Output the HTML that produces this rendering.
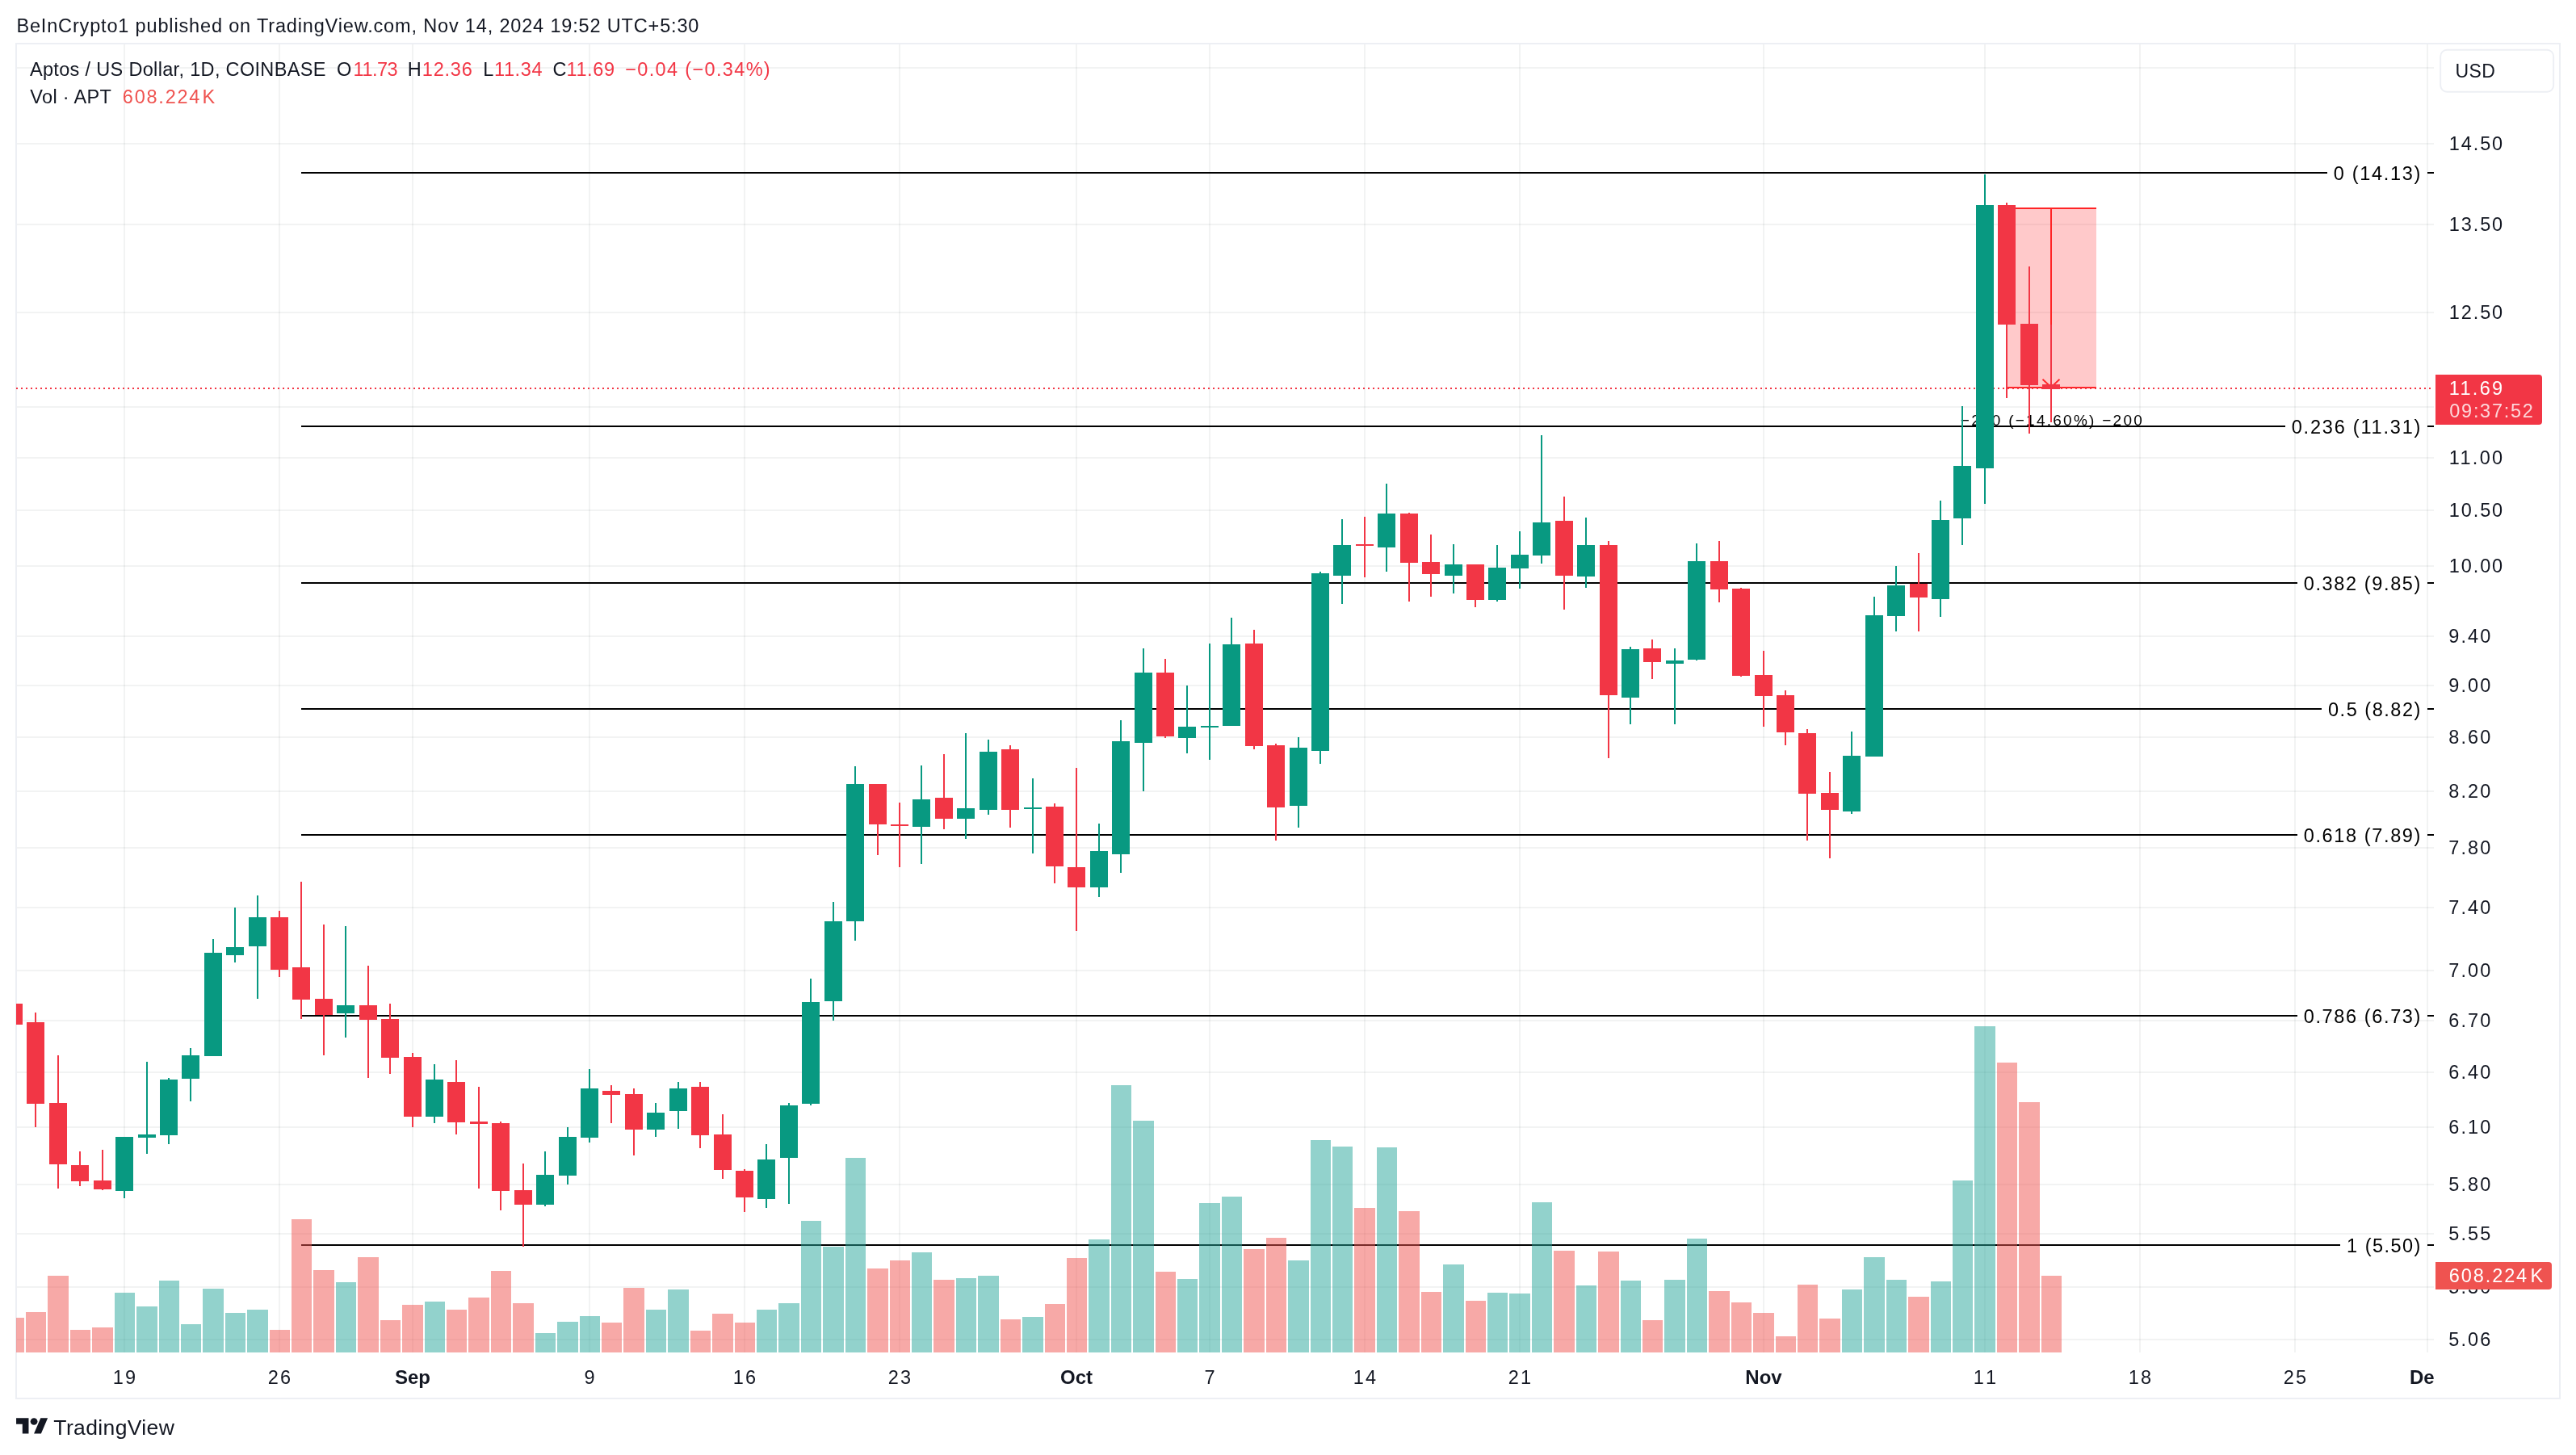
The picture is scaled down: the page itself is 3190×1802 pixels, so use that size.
<!DOCTYPE html>
<html><head><meta charset="utf-8"><title>APTUSD chart</title>
<style>html,body{margin:0;padding:0;background:#fff;}body{width:3190px;height:1802px;overflow:hidden;}svg{display:block;font-family:'Liberation Sans', sans-serif;}text{white-space:pre;}</style></head><body>
<div style="width:3190px;height:1802px;will-change:transform;">
<svg width="3190" height="1802" viewBox="0 0 3190 1802">
<defs><clipPath id="pane"><rect x="20" y="55" width="2994" height="1620"/></clipPath><clipPath id="taxis"><rect x="21" y="1675" width="2993" height="56"/></clipPath></defs>
<rect width="3190" height="1802" fill="#fff"/>
<g fill="rgba(42,46,57,0.06)" shape-rendering="crispEdges">
<rect x="21" y="83" width="2993" height="2"/>
<rect x="21" y="177" width="2993" height="2"/>
<rect x="21" y="277" width="2993" height="2"/>
<rect x="21" y="386" width="2993" height="2"/>
<rect x="21" y="503" width="2993" height="2"/>
<rect x="21" y="566" width="2993" height="2"/>
<rect x="21" y="631" width="2993" height="2"/>
<rect x="21" y="700" width="2993" height="2"/>
<rect x="21" y="787" width="2993" height="2"/>
<rect x="21" y="848" width="2993" height="2"/>
<rect x="21" y="912" width="2993" height="2"/>
<rect x="21" y="979" width="2993" height="2"/>
<rect x="21" y="1049" width="2993" height="2"/>
<rect x="21" y="1123" width="2993" height="2"/>
<rect x="21" y="1201" width="2993" height="2"/>
<rect x="21" y="1263" width="2993" height="2"/>
<rect x="21" y="1327" width="2993" height="2"/>
<rect x="21" y="1395" width="2993" height="2"/>
<rect x="21" y="1466" width="2993" height="2"/>
<rect x="21" y="1527" width="2993" height="2"/>
<rect x="21" y="1593" width="2993" height="2"/>
<rect x="21" y="1658" width="2993" height="2"/>
<rect x="153" y="55" width="2" height="1620"/>
<rect x="345" y="55" width="2" height="1620"/>
<rect x="510" y="55" width="2" height="1620"/>
<rect x="729" y="55" width="2" height="1620"/>
<rect x="921" y="55" width="2" height="1620"/>
<rect x="1113" y="55" width="2" height="1620"/>
<rect x="1332" y="55" width="2" height="1620"/>
<rect x="1497" y="55" width="2" height="1620"/>
<rect x="1689" y="55" width="2" height="1620"/>
<rect x="1881" y="55" width="2" height="1620"/>
<rect x="2183" y="55" width="2" height="1620"/>
<rect x="2457" y="55" width="2" height="1620"/>
<rect x="2649" y="55" width="2" height="1620"/>
<rect x="2841" y="55" width="2" height="1620"/>
<rect x="3005" y="55" width="2" height="1620"/>
</g>
<rect x="20" y="54" width="3150" height="1678" fill="none" stroke="#edeff4" stroke-width="2" shape-rendering="crispEdges"/>
<g clip-path="url(#pane)">
<g fill="#000" shape-rendering="crispEdges">
<rect x="373" y="213" width="2509.0" height="2"/>
<rect x="373" y="527" width="2456.9" height="2"/>
<rect x="373" y="721" width="2471.9" height="2"/>
<rect x="373" y="877" width="2502.2" height="2"/>
<rect x="373" y="1033" width="2471.9" height="2"/>
<rect x="373" y="1257" width="2471.9" height="2"/>
<rect x="373" y="1541" width="2525.3" height="2"/>
</g>
<text x="2889.80" y="222.60" font-size="23.5" fill="#000" textLength="107.60" lengthAdjust="spacing">0 (14.13)</text>
<text x="2837.70" y="536.60" font-size="23.5" fill="#000" textLength="159.70" lengthAdjust="spacing">0.236 (11.31)</text>
<text x="2852.70" y="730.60" font-size="23.5" fill="#000" textLength="144.70" lengthAdjust="spacing">0.382 (9.85)</text>
<text x="2883.00" y="886.60" font-size="23.5" fill="#000" textLength="114.40" lengthAdjust="spacing">0.5 (8.82)</text>
<text x="2852.70" y="1042.60" font-size="23.5" fill="#000" textLength="144.70" lengthAdjust="spacing">0.618 (7.89)</text>
<text x="2852.70" y="1266.60" font-size="23.5" fill="#000" textLength="144.70" lengthAdjust="spacing">0.786 (6.73)</text>
<text x="2906.10" y="1550.60" font-size="23.5" fill="#000" textLength="91.30" lengthAdjust="spacing">1 (5.50)</text>
<rect x="2485" y="258" width="111" height="222" fill="rgba(255,75,78,0.3)" shape-rendering="crispEdges"/>
<g fill="#FF2426" shape-rendering="crispEdges">
<rect x="2485" y="257" width="111" height="2"/>
<rect x="2485" y="479" width="111" height="2"/>
<rect x="2539" y="258" width="2" height="222"/>
</g>
<path d="M2529.5 469.8 L2540 479.5 L2550.5 469.8" fill="none" stroke="#FF2A2C" stroke-width="2"/>
<text x="2540.30" y="526.90" font-size="19" fill="#000" text-anchor="middle" textLength="225.00" lengthAdjust="spacing">−200 (−14.60%) −200</text>
</g>
<g clip-path="url(#pane)" shape-rendering="crispEdges">
<rect x="5" y="1632" width="25" height="43" fill="rgba(239,83,80,0.5)"/>
<rect x="32" y="1625" width="25" height="50" fill="rgba(239,83,80,0.5)"/>
<rect x="59" y="1580" width="26" height="95" fill="rgba(239,83,80,0.5)"/>
<rect x="87" y="1647" width="25" height="28" fill="rgba(239,83,80,0.5)"/>
<rect x="114" y="1644" width="26" height="31" fill="rgba(239,83,80,0.5)"/>
<rect x="142" y="1601" width="25" height="74" fill="rgba(38,166,154,0.5)"/>
<rect x="169" y="1618" width="26" height="57" fill="rgba(38,166,154,0.5)"/>
<rect x="197" y="1586" width="25" height="89" fill="rgba(38,166,154,0.5)"/>
<rect x="224" y="1640" width="25" height="35" fill="rgba(38,166,154,0.5)"/>
<rect x="251" y="1596" width="26" height="79" fill="rgba(38,166,154,0.5)"/>
<rect x="279" y="1626" width="25" height="49" fill="rgba(38,166,154,0.5)"/>
<rect x="306" y="1622" width="26" height="53" fill="rgba(38,166,154,0.5)"/>
<rect x="334" y="1647" width="25" height="28" fill="rgba(239,83,80,0.5)"/>
<rect x="361" y="1510" width="25" height="165" fill="rgba(239,83,80,0.5)"/>
<rect x="388" y="1573" width="26" height="102" fill="rgba(239,83,80,0.5)"/>
<rect x="416" y="1588" width="25" height="87" fill="rgba(38,166,154,0.5)"/>
<rect x="443" y="1557" width="26" height="118" fill="rgba(239,83,80,0.5)"/>
<rect x="471" y="1635" width="25" height="40" fill="rgba(239,83,80,0.5)"/>
<rect x="498" y="1616" width="26" height="59" fill="rgba(239,83,80,0.5)"/>
<rect x="526" y="1612" width="25" height="63" fill="rgba(38,166,154,0.5)"/>
<rect x="553" y="1622" width="25" height="53" fill="rgba(239,83,80,0.5)"/>
<rect x="580" y="1607" width="26" height="68" fill="rgba(239,83,80,0.5)"/>
<rect x="608" y="1574" width="25" height="101" fill="rgba(239,83,80,0.5)"/>
<rect x="635" y="1614" width="26" height="61" fill="rgba(239,83,80,0.5)"/>
<rect x="663" y="1651" width="25" height="24" fill="rgba(38,166,154,0.5)"/>
<rect x="690" y="1637" width="26" height="38" fill="rgba(38,166,154,0.5)"/>
<rect x="718" y="1630" width="25" height="45" fill="rgba(38,166,154,0.5)"/>
<rect x="745" y="1638" width="25" height="37" fill="rgba(239,83,80,0.5)"/>
<rect x="772" y="1595" width="26" height="80" fill="rgba(239,83,80,0.5)"/>
<rect x="800" y="1622" width="25" height="53" fill="rgba(38,166,154,0.5)"/>
<rect x="827" y="1597" width="26" height="78" fill="rgba(38,166,154,0.5)"/>
<rect x="855" y="1648" width="25" height="27" fill="rgba(239,83,80,0.5)"/>
<rect x="882" y="1627" width="26" height="48" fill="rgba(239,83,80,0.5)"/>
<rect x="910" y="1638" width="25" height="37" fill="rgba(239,83,80,0.5)"/>
<rect x="937" y="1622" width="25" height="53" fill="rgba(38,166,154,0.5)"/>
<rect x="964" y="1614" width="26" height="61" fill="rgba(38,166,154,0.5)"/>
<rect x="992" y="1512" width="25" height="163" fill="rgba(38,166,154,0.5)"/>
<rect x="1019" y="1544" width="26" height="131" fill="rgba(38,166,154,0.5)"/>
<rect x="1047" y="1434" width="25" height="241" fill="rgba(38,166,154,0.5)"/>
<rect x="1074" y="1571" width="26" height="104" fill="rgba(239,83,80,0.5)"/>
<rect x="1102" y="1561" width="25" height="114" fill="rgba(239,83,80,0.5)"/>
<rect x="1129" y="1551" width="25" height="124" fill="rgba(38,166,154,0.5)"/>
<rect x="1156" y="1585" width="26" height="90" fill="rgba(239,83,80,0.5)"/>
<rect x="1184" y="1583" width="25" height="92" fill="rgba(38,166,154,0.5)"/>
<rect x="1211" y="1580" width="26" height="95" fill="rgba(38,166,154,0.5)"/>
<rect x="1239" y="1634" width="25" height="41" fill="rgba(239,83,80,0.5)"/>
<rect x="1266" y="1631" width="26" height="44" fill="rgba(38,166,154,0.5)"/>
<rect x="1294" y="1615" width="25" height="60" fill="rgba(239,83,80,0.5)"/>
<rect x="1321" y="1558" width="25" height="117" fill="rgba(239,83,80,0.5)"/>
<rect x="1348" y="1535" width="26" height="140" fill="rgba(38,166,154,0.5)"/>
<rect x="1376" y="1344" width="25" height="331" fill="rgba(38,166,154,0.5)"/>
<rect x="1403" y="1388" width="26" height="287" fill="rgba(38,166,154,0.5)"/>
<rect x="1431" y="1575" width="25" height="100" fill="rgba(239,83,80,0.5)"/>
<rect x="1458" y="1584" width="25" height="91" fill="rgba(38,166,154,0.5)"/>
<rect x="1485" y="1490" width="26" height="185" fill="rgba(38,166,154,0.5)"/>
<rect x="1513" y="1482" width="25" height="193" fill="rgba(38,166,154,0.5)"/>
<rect x="1540" y="1547" width="26" height="128" fill="rgba(239,83,80,0.5)"/>
<rect x="1568" y="1533" width="25" height="142" fill="rgba(239,83,80,0.5)"/>
<rect x="1595" y="1561" width="26" height="114" fill="rgba(38,166,154,0.5)"/>
<rect x="1623" y="1412" width="25" height="263" fill="rgba(38,166,154,0.5)"/>
<rect x="1650" y="1420" width="25" height="255" fill="rgba(38,166,154,0.5)"/>
<rect x="1677" y="1496" width="26" height="179" fill="rgba(239,83,80,0.5)"/>
<rect x="1705" y="1421" width="25" height="254" fill="rgba(38,166,154,0.5)"/>
<rect x="1732" y="1500" width="26" height="175" fill="rgba(239,83,80,0.5)"/>
<rect x="1760" y="1600" width="25" height="75" fill="rgba(239,83,80,0.5)"/>
<rect x="1787" y="1566" width="26" height="109" fill="rgba(38,166,154,0.5)"/>
<rect x="1815" y="1611" width="25" height="64" fill="rgba(239,83,80,0.5)"/>
<rect x="1842" y="1601" width="25" height="74" fill="rgba(38,166,154,0.5)"/>
<rect x="1869" y="1602" width="26" height="73" fill="rgba(38,166,154,0.5)"/>
<rect x="1897" y="1489" width="25" height="186" fill="rgba(38,166,154,0.5)"/>
<rect x="1924" y="1549" width="26" height="126" fill="rgba(239,83,80,0.5)"/>
<rect x="1952" y="1592" width="25" height="83" fill="rgba(38,166,154,0.5)"/>
<rect x="1979" y="1550" width="26" height="125" fill="rgba(239,83,80,0.5)"/>
<rect x="2007" y="1586" width="25" height="89" fill="rgba(38,166,154,0.5)"/>
<rect x="2034" y="1635" width="25" height="40" fill="rgba(239,83,80,0.5)"/>
<rect x="2061" y="1585" width="26" height="90" fill="rgba(38,166,154,0.5)"/>
<rect x="2089" y="1534" width="25" height="141" fill="rgba(38,166,154,0.5)"/>
<rect x="2116" y="1599" width="26" height="76" fill="rgba(239,83,80,0.5)"/>
<rect x="2144" y="1613" width="25" height="62" fill="rgba(239,83,80,0.5)"/>
<rect x="2171" y="1626" width="26" height="49" fill="rgba(239,83,80,0.5)"/>
<rect x="2199" y="1655" width="25" height="20" fill="rgba(239,83,80,0.5)"/>
<rect x="2226" y="1591" width="25" height="84" fill="rgba(239,83,80,0.5)"/>
<rect x="2253" y="1633" width="26" height="42" fill="rgba(239,83,80,0.5)"/>
<rect x="2281" y="1597" width="25" height="78" fill="rgba(38,166,154,0.5)"/>
<rect x="2308" y="1557" width="26" height="118" fill="rgba(38,166,154,0.5)"/>
<rect x="2336" y="1585" width="25" height="90" fill="rgba(38,166,154,0.5)"/>
<rect x="2363" y="1606" width="26" height="69" fill="rgba(239,83,80,0.5)"/>
<rect x="2391" y="1587" width="25" height="88" fill="rgba(38,166,154,0.5)"/>
<rect x="2418" y="1462" width="25" height="213" fill="rgba(38,166,154,0.5)"/>
<rect x="2445" y="1271" width="26" height="404" fill="rgba(38,166,154,0.5)"/>
<rect x="2473" y="1316" width="25" height="359" fill="rgba(239,83,80,0.5)"/>
<rect x="2500" y="1365" width="26" height="310" fill="rgba(239,83,80,0.5)"/>
<rect x="2528" y="1580" width="25" height="95" fill="rgba(239,83,80,0.5)"/>
</g>
<line x1="20" y1="481" x2="3014" y2="481" stroke="#F23645" stroke-width="2" stroke-dasharray="2 4" shape-rendering="crispEdges" clip-path="url(#pl)"/>
<g clip-path="url(#pane)" shape-rendering="crispEdges">
<rect x="16" y="1243" width="2" height="26" fill="#F23645"/>
<rect x="6" y="1243" width="22" height="26" fill="#F23645"/>
<rect x="43" y="1254" width="2" height="142" fill="#F23645"/>
<rect x="33" y="1266" width="22" height="101" fill="#F23645"/>
<rect x="71" y="1307" width="2" height="165" fill="#F23645"/>
<rect x="61" y="1366" width="22" height="76" fill="#F23645"/>
<rect x="98" y="1426" width="2" height="43" fill="#F23645"/>
<rect x="88" y="1443" width="22" height="20" fill="#F23645"/>
<rect x="126" y="1424" width="2" height="50" fill="#F23645"/>
<rect x="116" y="1462" width="22" height="11" fill="#F23645"/>
<rect x="153" y="1408" width="2" height="76" fill="#089981"/>
<rect x="143" y="1408" width="22" height="67" fill="#089981"/>
<rect x="181" y="1315" width="2" height="114" fill="#089981"/>
<rect x="171" y="1405" width="22" height="4" fill="#089981"/>
<rect x="208" y="1335" width="2" height="82" fill="#089981"/>
<rect x="198" y="1337" width="22" height="69" fill="#089981"/>
<rect x="235" y="1298" width="2" height="66" fill="#089981"/>
<rect x="225" y="1307" width="22" height="29" fill="#089981"/>
<rect x="263" y="1163" width="2" height="145" fill="#089981"/>
<rect x="253" y="1180" width="22" height="128" fill="#089981"/>
<rect x="290" y="1124" width="2" height="68" fill="#089981"/>
<rect x="280" y="1173" width="22" height="10" fill="#089981"/>
<rect x="318" y="1109" width="2" height="128" fill="#089981"/>
<rect x="308" y="1136" width="22" height="36" fill="#089981"/>
<rect x="345" y="1128" width="2" height="82" fill="#F23645"/>
<rect x="335" y="1136" width="22" height="65" fill="#F23645"/>
<rect x="372" y="1092" width="2" height="170" fill="#F23645"/>
<rect x="362" y="1198" width="22" height="40" fill="#F23645"/>
<rect x="400" y="1145" width="2" height="162" fill="#F23645"/>
<rect x="390" y="1237" width="22" height="20" fill="#F23645"/>
<rect x="427" y="1147" width="2" height="138" fill="#089981"/>
<rect x="417" y="1245" width="22" height="10" fill="#089981"/>
<rect x="455" y="1196" width="2" height="139" fill="#F23645"/>
<rect x="445" y="1245" width="22" height="18" fill="#F23645"/>
<rect x="482" y="1243" width="2" height="87" fill="#F23645"/>
<rect x="472" y="1262" width="22" height="48" fill="#F23645"/>
<rect x="510" y="1304" width="2" height="92" fill="#F23645"/>
<rect x="500" y="1309" width="22" height="74" fill="#F23645"/>
<rect x="537" y="1318" width="2" height="73" fill="#089981"/>
<rect x="527" y="1337" width="22" height="46" fill="#089981"/>
<rect x="564" y="1313" width="2" height="92" fill="#F23645"/>
<rect x="554" y="1340" width="22" height="50" fill="#F23645"/>
<rect x="592" y="1346" width="2" height="126" fill="#F23645"/>
<rect x="582" y="1389" width="22" height="3" fill="#F23645"/>
<rect x="619" y="1389" width="2" height="110" fill="#F23645"/>
<rect x="609" y="1391" width="22" height="84" fill="#F23645"/>
<rect x="647" y="1441" width="2" height="103" fill="#F23645"/>
<rect x="637" y="1474" width="22" height="18" fill="#F23645"/>
<rect x="674" y="1426" width="2" height="68" fill="#089981"/>
<rect x="664" y="1455" width="22" height="37" fill="#089981"/>
<rect x="702" y="1396" width="2" height="71" fill="#089981"/>
<rect x="692" y="1408" width="22" height="48" fill="#089981"/>
<rect x="729" y="1324" width="2" height="91" fill="#089981"/>
<rect x="719" y="1348" width="22" height="61" fill="#089981"/>
<rect x="756" y="1344" width="2" height="47" fill="#F23645"/>
<rect x="746" y="1351" width="22" height="5" fill="#F23645"/>
<rect x="784" y="1348" width="2" height="83" fill="#F23645"/>
<rect x="774" y="1355" width="22" height="44" fill="#F23645"/>
<rect x="811" y="1366" width="2" height="42" fill="#089981"/>
<rect x="801" y="1378" width="22" height="21" fill="#089981"/>
<rect x="839" y="1340" width="2" height="58" fill="#089981"/>
<rect x="829" y="1348" width="22" height="28" fill="#089981"/>
<rect x="866" y="1340" width="2" height="82" fill="#F23645"/>
<rect x="856" y="1346" width="22" height="60" fill="#F23645"/>
<rect x="894" y="1380" width="2" height="80" fill="#F23645"/>
<rect x="884" y="1405" width="22" height="44" fill="#F23645"/>
<rect x="921" y="1448" width="2" height="53" fill="#F23645"/>
<rect x="911" y="1450" width="22" height="33" fill="#F23645"/>
<rect x="948" y="1417" width="2" height="79" fill="#089981"/>
<rect x="938" y="1436" width="22" height="49" fill="#089981"/>
<rect x="976" y="1366" width="2" height="125" fill="#089981"/>
<rect x="966" y="1369" width="22" height="65" fill="#089981"/>
<rect x="1003" y="1212" width="2" height="157" fill="#089981"/>
<rect x="993" y="1241" width="22" height="126" fill="#089981"/>
<rect x="1031" y="1117" width="2" height="147" fill="#089981"/>
<rect x="1021" y="1141" width="22" height="99" fill="#089981"/>
<rect x="1058" y="949" width="2" height="216" fill="#089981"/>
<rect x="1048" y="971" width="22" height="170" fill="#089981"/>
<rect x="1086" y="971" width="2" height="88" fill="#F23645"/>
<rect x="1076" y="971" width="22" height="50" fill="#F23645"/>
<rect x="1113" y="994" width="2" height="80" fill="#F23645"/>
<rect x="1103" y="1021" width="22" height="2" fill="#F23645"/>
<rect x="1140" y="948" width="2" height="122" fill="#089981"/>
<rect x="1130" y="990" width="22" height="34" fill="#089981"/>
<rect x="1168" y="934" width="2" height="93" fill="#F23645"/>
<rect x="1158" y="988" width="22" height="26" fill="#F23645"/>
<rect x="1195" y="908" width="2" height="131" fill="#089981"/>
<rect x="1185" y="1001" width="22" height="13" fill="#089981"/>
<rect x="1223" y="916" width="2" height="93" fill="#089981"/>
<rect x="1213" y="931" width="22" height="72" fill="#089981"/>
<rect x="1250" y="923" width="2" height="102" fill="#F23645"/>
<rect x="1240" y="928" width="22" height="75" fill="#F23645"/>
<rect x="1278" y="964" width="2" height="93" fill="#089981"/>
<rect x="1268" y="1000" width="22" height="2" fill="#089981"/>
<rect x="1305" y="995" width="2" height="99" fill="#F23645"/>
<rect x="1295" y="999" width="22" height="74" fill="#F23645"/>
<rect x="1332" y="951" width="2" height="202" fill="#F23645"/>
<rect x="1322" y="1074" width="22" height="25" fill="#F23645"/>
<rect x="1360" y="1020" width="2" height="91" fill="#089981"/>
<rect x="1350" y="1054" width="22" height="45" fill="#089981"/>
<rect x="1387" y="892" width="2" height="189" fill="#089981"/>
<rect x="1377" y="918" width="22" height="140" fill="#089981"/>
<rect x="1415" y="803" width="2" height="177" fill="#089981"/>
<rect x="1405" y="833" width="22" height="87" fill="#089981"/>
<rect x="1442" y="816" width="2" height="98" fill="#F23645"/>
<rect x="1432" y="833" width="22" height="79" fill="#F23645"/>
<rect x="1469" y="849" width="2" height="84" fill="#089981"/>
<rect x="1459" y="900" width="22" height="14" fill="#089981"/>
<rect x="1497" y="797" width="2" height="144" fill="#089981"/>
<rect x="1487" y="899" width="22" height="2" fill="#089981"/>
<rect x="1524" y="765" width="2" height="134" fill="#089981"/>
<rect x="1514" y="798" width="22" height="101" fill="#089981"/>
<rect x="1552" y="780" width="2" height="148" fill="#F23645"/>
<rect x="1542" y="797" width="22" height="127" fill="#F23645"/>
<rect x="1579" y="921" width="2" height="120" fill="#F23645"/>
<rect x="1569" y="923" width="22" height="77" fill="#F23645"/>
<rect x="1607" y="913" width="2" height="112" fill="#089981"/>
<rect x="1597" y="926" width="22" height="72" fill="#089981"/>
<rect x="1634" y="708" width="2" height="238" fill="#089981"/>
<rect x="1624" y="710" width="22" height="220" fill="#089981"/>
<rect x="1661" y="643" width="2" height="105" fill="#089981"/>
<rect x="1651" y="675" width="22" height="38" fill="#089981"/>
<rect x="1689" y="640" width="2" height="75" fill="#F23645"/>
<rect x="1679" y="674" width="22" height="2" fill="#F23645"/>
<rect x="1716" y="599" width="2" height="109" fill="#089981"/>
<rect x="1706" y="636" width="22" height="42" fill="#089981"/>
<rect x="1744" y="635" width="2" height="110" fill="#F23645"/>
<rect x="1734" y="636" width="22" height="61" fill="#F23645"/>
<rect x="1771" y="662" width="2" height="77" fill="#F23645"/>
<rect x="1761" y="696" width="22" height="15" fill="#F23645"/>
<rect x="1799" y="674" width="2" height="61" fill="#089981"/>
<rect x="1789" y="699" width="22" height="14" fill="#089981"/>
<rect x="1826" y="699" width="2" height="53" fill="#F23645"/>
<rect x="1816" y="699" width="22" height="44" fill="#F23645"/>
<rect x="1853" y="675" width="2" height="70" fill="#089981"/>
<rect x="1843" y="703" width="22" height="40" fill="#089981"/>
<rect x="1881" y="658" width="2" height="71" fill="#089981"/>
<rect x="1871" y="687" width="22" height="17" fill="#089981"/>
<rect x="1908" y="539" width="2" height="159" fill="#089981"/>
<rect x="1898" y="647" width="22" height="41" fill="#089981"/>
<rect x="1936" y="615" width="2" height="140" fill="#F23645"/>
<rect x="1926" y="645" width="22" height="68" fill="#F23645"/>
<rect x="1963" y="641" width="2" height="87" fill="#089981"/>
<rect x="1953" y="675" width="22" height="39" fill="#089981"/>
<rect x="1991" y="670" width="2" height="269" fill="#F23645"/>
<rect x="1981" y="675" width="22" height="186" fill="#F23645"/>
<rect x="2018" y="801" width="2" height="96" fill="#089981"/>
<rect x="2008" y="804" width="22" height="60" fill="#089981"/>
<rect x="2045" y="792" width="2" height="49" fill="#F23645"/>
<rect x="2035" y="803" width="22" height="17" fill="#F23645"/>
<rect x="2073" y="803" width="2" height="94" fill="#089981"/>
<rect x="2063" y="818" width="22" height="4" fill="#089981"/>
<rect x="2100" y="673" width="2" height="145" fill="#089981"/>
<rect x="2090" y="695" width="22" height="122" fill="#089981"/>
<rect x="2128" y="670" width="2" height="76" fill="#F23645"/>
<rect x="2118" y="695" width="22" height="35" fill="#F23645"/>
<rect x="2155" y="728" width="2" height="110" fill="#F23645"/>
<rect x="2145" y="729" width="22" height="108" fill="#F23645"/>
<rect x="2183" y="806" width="2" height="94" fill="#F23645"/>
<rect x="2173" y="836" width="22" height="26" fill="#F23645"/>
<rect x="2210" y="855" width="2" height="68" fill="#F23645"/>
<rect x="2200" y="861" width="22" height="46" fill="#F23645"/>
<rect x="2237" y="903" width="2" height="138" fill="#F23645"/>
<rect x="2227" y="908" width="22" height="75" fill="#F23645"/>
<rect x="2265" y="956" width="2" height="107" fill="#F23645"/>
<rect x="2255" y="982" width="22" height="21" fill="#F23645"/>
<rect x="2292" y="906" width="2" height="102" fill="#089981"/>
<rect x="2282" y="936" width="22" height="69" fill="#089981"/>
<rect x="2320" y="739" width="2" height="198" fill="#089981"/>
<rect x="2310" y="762" width="22" height="175" fill="#089981"/>
<rect x="2347" y="701" width="2" height="81" fill="#089981"/>
<rect x="2337" y="725" width="22" height="38" fill="#089981"/>
<rect x="2375" y="685" width="2" height="97" fill="#F23645"/>
<rect x="2365" y="723" width="22" height="17" fill="#F23645"/>
<rect x="2402" y="620" width="2" height="144" fill="#089981"/>
<rect x="2392" y="644" width="22" height="98" fill="#089981"/>
<rect x="2429" y="503" width="2" height="172" fill="#089981"/>
<rect x="2419" y="577" width="22" height="65" fill="#089981"/>
<rect x="2457" y="216" width="2" height="408" fill="#089981"/>
<rect x="2447" y="254" width="22" height="326" fill="#089981"/>
<rect x="2484" y="251" width="2" height="242" fill="#F23645"/>
<rect x="2474" y="254" width="22" height="148" fill="#F23645"/>
<rect x="2512" y="330" width="2" height="207" fill="#F23645"/>
<rect x="2502" y="401" width="22" height="76" fill="#F23645"/>
<rect x="2539" y="402" width="2" height="121" fill="#F23645"/>
<rect x="2529" y="476" width="22" height="6" fill="#F23645"/>
</g>
<text x="3032.80" y="186.40" font-size="23.5" fill="#131722" textLength="66.40" lengthAdjust="spacing">14.50</text>
<text x="3032.80" y="286.40" font-size="23.5" fill="#131722" textLength="66.40" lengthAdjust="spacing">13.50</text>
<text x="3032.80" y="395.40" font-size="23.5" fill="#131722" textLength="66.40" lengthAdjust="spacing">12.50</text>
<text x="3032.80" y="575.40" font-size="23.5" fill="#131722" textLength="66.40" lengthAdjust="spacing">11.00</text>
<text x="3032.80" y="640.40" font-size="23.5" fill="#131722" textLength="66.40" lengthAdjust="spacing">10.50</text>
<text x="3032.80" y="709.40" font-size="23.5" fill="#131722" textLength="66.40" lengthAdjust="spacing">10.00</text>
<text x="3032.30" y="796.40" font-size="23.5" fill="#131722" textLength="52.00" lengthAdjust="spacing">9.40</text>
<text x="3032.30" y="857.40" font-size="23.5" fill="#131722" textLength="52.00" lengthAdjust="spacing">9.00</text>
<text x="3032.30" y="921.40" font-size="23.5" fill="#131722" textLength="52.00" lengthAdjust="spacing">8.60</text>
<text x="3032.30" y="988.40" font-size="23.5" fill="#131722" textLength="52.00" lengthAdjust="spacing">8.20</text>
<text x="3032.30" y="1058.40" font-size="23.5" fill="#131722" textLength="52.00" lengthAdjust="spacing">7.80</text>
<text x="3032.30" y="1132.40" font-size="23.5" fill="#131722" textLength="52.00" lengthAdjust="spacing">7.40</text>
<text x="3032.30" y="1210.40" font-size="23.5" fill="#131722" textLength="52.00" lengthAdjust="spacing">7.00</text>
<text x="3032.30" y="1272.40" font-size="23.5" fill="#131722" textLength="52.00" lengthAdjust="spacing">6.70</text>
<text x="3032.30" y="1336.40" font-size="23.5" fill="#131722" textLength="52.00" lengthAdjust="spacing">6.40</text>
<text x="3032.30" y="1404.40" font-size="23.5" fill="#131722" textLength="52.00" lengthAdjust="spacing">6.10</text>
<text x="3032.30" y="1475.40" font-size="23.5" fill="#131722" textLength="52.00" lengthAdjust="spacing">5.80</text>
<text x="3032.30" y="1536.40" font-size="23.5" fill="#131722" textLength="52.00" lengthAdjust="spacing">5.55</text>
<text x="3032.30" y="1602.40" font-size="23.5" fill="#131722" textLength="52.00" lengthAdjust="spacing">5.30</text>
<text x="3032.30" y="1667.40" font-size="23.5" fill="#131722" textLength="52.00" lengthAdjust="spacing">5.06</text>
<g fill="#000" shape-rendering="crispEdges">
<rect x="3006" y="213" width="8" height="2"/>
<rect x="3006" y="527" width="8" height="2"/>
<rect x="3006" y="721" width="8" height="2"/>
<rect x="3006" y="877" width="8" height="2"/>
<rect x="3006" y="1033" width="8" height="2"/>
<rect x="3006" y="1257" width="8" height="2"/>
<rect x="3006" y="1541" width="8" height="2"/>
</g>
<rect x="3022.2" y="61.8" width="140" height="51.9" rx="8" ry="8" fill="#fff" stroke="#edeff4" stroke-width="1.9"/>
<text x="3040.40" y="95.60" font-size="23" fill="#131722" textLength="49.40" lengthAdjust="spacing">USD</text>
<path d="M3016 464 H3144 a4 4 0 0 1 4 4 V522 a4 4 0 0 1 -4 4 H3016 Z" fill="#F23645"/>
<text x="3032.80" y="489.00" font-size="23.5" fill="#fff" textLength="66.40" lengthAdjust="spacing">11.69</text>
<text x="3033.30" y="516.70" font-size="23.5" fill="rgba(255,255,255,0.8)" textLength="103.50" lengthAdjust="spacing">09:37:52</text>
<path d="M3016 1563 H3156 a4 4 0 0 1 4 4 V1593 a4 4 0 0 1 -4 4 H3016 Z" fill="#EF5350"/>
<text x="3032.80" y="1588.30" font-size="23.5" fill="#fff" textLength="96.40" lengthAdjust="spacing">608.224</text>
<text x="3133.60" y="1588.30" font-size="23.5" fill="#fff">K</text>
<g clip-path="url(#taxis)">
<text x="139.80" y="1713.70" font-size="23.5" fill="#131722" textLength="28.40" lengthAdjust="spacing">19</text>
<text x="331.80" y="1713.70" font-size="23.5" fill="#131722" textLength="28.40" lengthAdjust="spacing">26</text>
<text x="511.00" y="1713.70" font-size="24" fill="#131722" font-weight="bold" text-anchor="middle">Sep</text>
<text x="730.00" y="1713.70" font-size="23.5" fill="#131722" text-anchor="middle">9</text>
<text x="907.80" y="1713.70" font-size="23.5" fill="#131722" textLength="28.40" lengthAdjust="spacing">16</text>
<text x="1099.80" y="1713.70" font-size="23.5" fill="#131722" textLength="28.40" lengthAdjust="spacing">23</text>
<text x="1333.00" y="1713.70" font-size="24" fill="#131722" font-weight="bold" text-anchor="middle">Oct</text>
<text x="1498.00" y="1713.70" font-size="23.5" fill="#131722" text-anchor="middle">7</text>
<text x="1675.80" y="1713.70" font-size="23.5" fill="#131722" textLength="28.40" lengthAdjust="spacing">14</text>
<text x="1867.80" y="1713.70" font-size="23.5" fill="#131722" textLength="28.40" lengthAdjust="spacing">21</text>
<text x="2184.00" y="1713.70" font-size="24" fill="#131722" font-weight="bold" text-anchor="middle">Nov</text>
<text x="2443.80" y="1713.70" font-size="23.5" fill="#131722" textLength="28.40" lengthAdjust="spacing">11</text>
<text x="2635.80" y="1713.70" font-size="23.5" fill="#131722" textLength="28.40" lengthAdjust="spacing">18</text>
<text x="2827.80" y="1713.70" font-size="23.5" fill="#131722" textLength="28.40" lengthAdjust="spacing">25</text>
<text x="3006.00" y="1713.70" font-size="24" fill="#131722" font-weight="bold" text-anchor="middle">Dec</text>
</g>
<text x="20.40" y="40.10" font-size="23.5" fill="#131722" textLength="845.00" lengthAdjust="spacing">BeInCrypto1 published on TradingView.com, Nov 14, 2024 19:52 UTC+5:30</text>
<text x="36.90" y="94.10" font-size="23.5" fill="#131722" textLength="366.50" lengthAdjust="spacing">Aptos / US Dollar, 1D, COINBASE</text>
<text x="417.00" y="94.10" font-size="23.5" fill="#131722" textLength="18.50" lengthAdjust="spacing">O</text>
<text x="437.60" y="94.10" font-size="23.5" fill="#F23645" textLength="55.00" lengthAdjust="spacing">11.73</text>
<text x="504.80" y="94.10" font-size="23.5" fill="#131722" textLength="16.50" lengthAdjust="spacing">H</text>
<text x="522.80" y="94.10" font-size="23.5" fill="#F23645" textLength="62.00" lengthAdjust="spacing">12.36</text>
<text x="598.20" y="94.10" font-size="23.5" fill="#131722" textLength="12.50" lengthAdjust="spacing">L</text>
<text x="612.00" y="94.10" font-size="23.5" fill="#F23645" textLength="59.50" lengthAdjust="spacing">11.34</text>
<text x="684.60" y="94.10" font-size="23.5" fill="#131722" textLength="17.50" lengthAdjust="spacing">C</text>
<text x="701.50" y="94.10" font-size="23.5" fill="#F23645" textLength="59.50" lengthAdjust="spacing">11.69</text>
<text x="774.20" y="94.10" font-size="23.5" fill="#F23645" textLength="179.50" lengthAdjust="spacing">−0.04 (−0.34%)</text>
<text x="37.30" y="127.70" font-size="23.5" fill="#131722" textLength="100.50" lengthAdjust="spacing">Vol · APT</text>
<text x="151.80" y="127.70" font-size="23.5" fill="#EF5350" textLength="95.60" lengthAdjust="spacing">608.224</text>
<text x="250.40" y="127.70" font-size="23.5" fill="#EF5350">K</text>
<g transform="translate(20.07 1751.9) scale(1.1 1.078)" fill="#131722"><path d="M14 22H7V11H0V4h14v18ZM28 22h-8l7.5-18h8L28 22Z"/><circle cx="20" cy="8" r="4"/></g>
<text x="66.30" y="1776.90" font-size="26.5" fill="#131722" textLength="149.50" lengthAdjust="spacing">TradingView</text>
</svg></div></body></html>
